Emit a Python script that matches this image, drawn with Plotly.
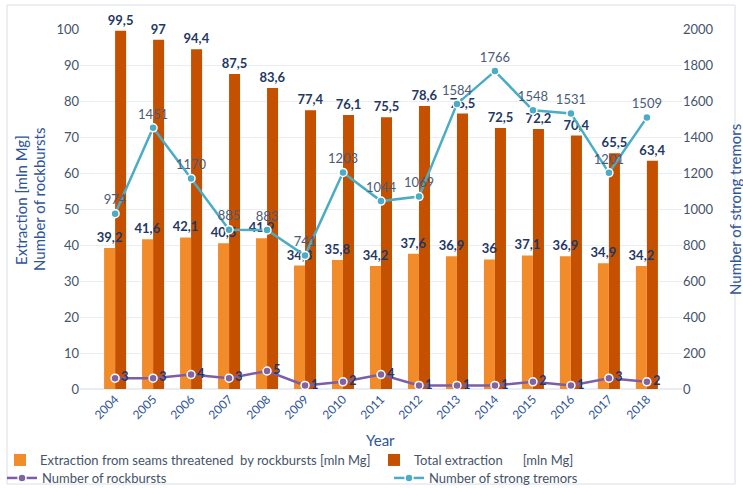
import plotly.graph_objects as go

years = ["2004", "2005", "2006", "2007", "2008", "2009", "2010", "2011",
         "2012", "2013", "2014", "2015", "2016", "2017", "2018"]
seams = [39.2, 41.6, 42.1, 40.5, 41.9, 34.3, 35.8, 34.2, 37.6, 36.9, 36, 37.1, 36.9, 34.9, 34.2]
total = [99.5, 97, 94.4, 87.5, 83.6, 77.4, 76.1, 75.5, 78.6, 76.5, 72.5, 72.2, 70.4, 65.5, 63.4]
rockbursts = [3, 3, 4, 3, 5, 1, 2, 4, 1, 1, 1, 2, 1, 3, 2]
tremors = [974, 1451, 1170, 885, 883, 741, 1203, 1044, 1069, 1584, 1766, 1548, 1531, 1201, 1509]


def fmt(v):
    return ("%g" % v).replace(".", ",")


dark = "#1F3864"
axis_col = "#2F5597"
tick_col = "#44546A"
font = "Lato"

W, H = 743, 488
L, R, T, B = 80, 61, 29, 99
PW, PH = W - L - R, H - T - B


def px(xp):
    return (xp - L) / PW


def py(yp):
    return (H - B - yp) / PH


bw = 0.29

fig = go.Figure()
# total first (drawn below), seams second so its labels sit on top
fig.add_trace(go.Bar(
    x=years, y=total, name="Total extraction      [mln Mg]",
    marker=dict(color="#C55000", line=dict(width=0)), offset=0, width=bw,
    text=[fmt(v) for v in total], textposition="outside",
    textfont=dict(color=dark, size=13, family=font, weight="bold"), constraintext="none",
    cliponaxis=False, yaxis="y", legend="legend2"))
fig.add_trace(go.Bar(
    x=years, y=seams, name="Extraction from seams threatened  by rockbursts [mln Mg]",
    marker=dict(color="#F28C2B", line=dict(width=0)), offset=-bw, width=bw,
    text=[fmt(v) for v in seams], textposition="outside",
    textfont=dict(color=dark, size=13, family=font, weight="bold"), constraintext="none",
    cliponaxis=False, yaxis="y", legend="legend"))
fig.add_trace(go.Scatter(
    x=years, y=rockbursts, name="Number of rockbursts", mode="lines+markers+text",
    line=dict(color="#7B5EA7", width=2.5),
    marker=dict(size=8, color="#8064A2", line=dict(color="white", width=1.5)),
    text=[fmt(v) for v in rockbursts], textposition="middle right",
    textfont=dict(color=dark, size=13, family=font, weight="bold"),
    cliponaxis=False, yaxis="y", legend="legend3"))
fig.add_trace(go.Scatter(
    x=years, y=tremors, name="Number of strong tremors", mode="lines+markers+text",
    line=dict(color="#4BACC6", width=2.5),
    marker=dict(size=8, color="#4BACC6", line=dict(color="white", width=1.5)),
    text=[fmt(v) for v in tremors], textposition="top center",
    textfont=dict(color="#4A5B78", size=13, family=font),
    cliponaxis=False, yaxis="y2", legend="legend4"))

leg_common = dict(orientation="v", yanchor="top", xanchor="left",
                  font=dict(size=13, color=tick_col, family=font),
                  bgcolor="rgba(0,0,0,0)", tracegroupgap=0, itemwidth=30)


def title_ann(text, xp, yp, angle):
    return dict(text=text, x=px(xp), y=py(yp), xref="paper", yref="paper",
                xanchor="center", yanchor="middle", textangle=angle, showarrow=False,
                font=dict(size=15, color=axis_col, family=font))


fig.update_layout(
    width=W, height=H,
    margin=dict(l=L, r=R, t=T, b=B, autoexpand=False),
    paper_bgcolor="white", plot_bgcolor="white",
    font=dict(family=font, color=tick_col, size=13),
    barmode="overlay",
    showlegend=True,
    legend=dict(x=px(0), y=py(445), **leg_common),
    legend2=dict(x=px(374), y=py(445), **leg_common),
    legend3=dict(x=px(2), y=py(463), **leg_common),
    legend4=dict(x=px(389), y=py(463), **leg_common),
    xaxis=dict(tickangle=-45, tickfont=dict(size=12, color=axis_col),
               showline=False, ticks="", automargin=False),
    yaxis=dict(range=[0, 100], dtick=10, gridcolor="#E9EEF5", zeroline=True,
               zerolinecolor="#E9EEF5", automargin=False,
               tickfont=dict(size=13, color=tick_col)),
    yaxis2=dict(range=[0, 2000], dtick=200, overlaying="y", side="right",
                showgrid=False, zeroline=False, automargin=False,
                tickfont=dict(size=13, color=tick_col)),
    annotations=[
        title_ann("Extraction [mln Mg]", 21, 200, -90),
        title_ann("Number of rockbursts", 39, 200, -90),
        title_ann("Number of strong tremors", 735, 210, -90),
        title_ann("Year", 380, 440, 0),
    ],
    shapes=[dict(type="rect", xref="paper", yref="paper",
                 x0=px(7), x1=px(735), y0=py(484), y1=py(5),
                 line=dict(color="#D9DEE6", width=1), fillcolor="rgba(0,0,0,0)", layer="below")],
)

fig.write_html("out.html", config={"displayModeBar": False},
               post_script="document.body.style.margin='0';")
